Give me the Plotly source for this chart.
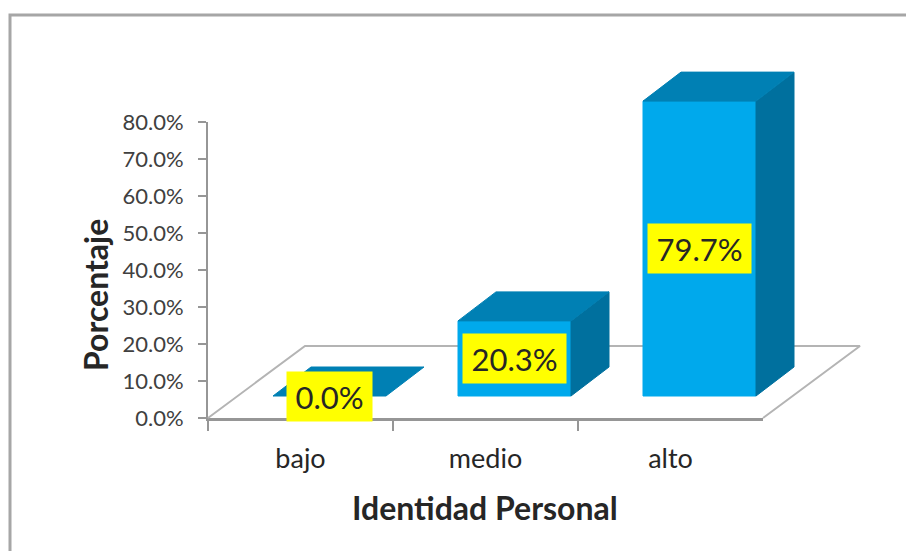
import plotly.graph_objects as go

categories = ["bajo", "medio", "alto"]
values = [0.0, 20.3, 79.7]
value_labels = ["0.0%", "20.3%", "79.7%"]
y_ticks = [0, 10, 20, 30, 40, 50, 60, 70, 80]
y_tick_labels = ["0.0%", "10.0%", "20.0%", "30.0%", "40.0%", "50.0%", "60.0%", "70.0%", "80.0%"]

# tamaño de la figura y del area de ejes (px)
W, H = 906, 551
AX_LEFT, AX_RIGHT = 208, 763
AX_TOP, AX_BOTTOM = 122, 418
PX_CAT = (AX_RIGHT - AX_LEFT) / len(categories)
PX_PCT = (AX_BOTTOM - AX_TOP) / y_ticks[-1]

# efecto 3D: desplazamientos en unidades de los ejes
BAR_SHIFT = 29 / PX_CAT
BAR_BASE = 22 / PX_PCT
BAR_WIDTH = 113 / PX_CAT
DEPTH_X = 38 / PX_CAT
DEPTH_Y = 29 / PX_PCT
FLOOR_X = 97 / PX_CAT
FLOOR_Y = 72 / PX_PCT

FRONT = "#00A9EC"
TOP = "#0080B4"
SIDE = "#00709E"
GRAY = "#969696"
FONT = "Lato"
TEXT = "#262626"


def face(fig, xs, ys, color):
    fig.add_trace(
        go.Scatter(
            x=xs,
            y=ys,
            xaxis="x2",
            yaxis="y2",
            mode="lines",
            fill="toself",
            fillcolor=color,
            line=dict(color=color, width=1),
            hoverinfo="skip",
        )
    )


fig = go.Figure()

# traza invisible para fijar el eje de categorias
fig.add_trace(
    go.Scatter(
        x=categories,
        y=values,
        mode="markers",
        marker=dict(opacity=0),
        hoverinfo="skip",
    )
)

# piso
fig.add_trace(
    go.Scatter(
        x=[-0.5, -0.5 + FLOOR_X, 2.5 + FLOOR_X, 2.5],
        y=[0, FLOOR_Y, FLOOR_Y, 0],
        xaxis="x2",
        yaxis="y2",
        mode="lines",
        line=dict(color="#B4B4B4", width=2),
        hoverinfo="skip",
    )
)

# barras
for i, value in enumerate(values):
    x0 = i + BAR_SHIFT - BAR_WIDTH / 2
    x1 = i + BAR_SHIFT + BAR_WIDTH / 2
    y0 = BAR_BASE
    y1 = BAR_BASE + value
    if value > 0:
        face(fig, [x0, x1, x1, x0, x0], [y0, y0, y1, y1, y0], FRONT)
        face(
            fig,
            [x1, x1 + DEPTH_X, x1 + DEPTH_X, x1, x1],
            [y0, y0 + DEPTH_Y, y1 + DEPTH_Y, y1, y0],
            SIDE,
        )
    face(
        fig,
        [x0, x1, x1 + DEPTH_X, x0 + DEPTH_X, x0],
        [y1, y1, y1 + DEPTH_Y, y1 + DEPTH_Y, y1],
        TOP,
    )
    fig.add_annotation(
        x=i + BAR_SHIFT,
        y=BAR_BASE + value / 2,
        xref="x2",
        yref="y2",
        text=value_labels[i],
        showarrow=False,
        bgcolor="#FFFF00",
        width=83 if value == 0 else 101,
        height=47,
        font=dict(family=FONT, size=31, color=TEXT),
    )

# titulos de los ejes
fig.add_annotation(
    x=485 / W,
    y=1 - 507 / H,
    xref="paper",
    yref="paper",
    xanchor="center",
    yanchor="middle",
    text="<b>Identidad Personal</b>",
    showarrow=False,
    font=dict(family=FONT, size=32, color=TEXT),
)
fig.add_annotation(
    x=95 / W,
    y=1 - 295 / H,
    xref="paper",
    yref="paper",
    xanchor="center",
    yanchor="middle",
    text="<b>Porcentaje</b>",
    textangle=-90,
    showarrow=False,
    font=dict(family=FONT, size=32, color=TEXT),
)

# marco del grafico
fig.add_shape(
    type="path",
    xref="paper",
    yref="paper",
    path=f"M {10 / W} 0 L {10 / W} {1 - 15 / H} L 1 {1 - 15 / H}",
    line=dict(color="#A6A6A6", width=3),
    layer="below",
)

fig.update_layout(
    width=W,
    height=H,
    autosize=False,
    margin=dict(l=0, r=0, t=0, b=0),
    paper_bgcolor="white",
    plot_bgcolor="rgba(0,0,0,0)",
    showlegend=False,
    font=dict(family=FONT, color=TEXT),
    xaxis=dict(
        domain=[AX_LEFT / W, AX_RIGHT / W],
        automargin=False,
        type="category",
        categoryorder="array",
        categoryarray=categories,
        range=[-0.5, 2.5],
        tickson="boundaries",
        ticks="outside",
        ticklen=10,
        tickwidth=2,
        tickcolor=GRAY,
        showline=True,
        linecolor=GRAY,
        linewidth=3,
        showgrid=False,
        zeroline=False,
        tickfont=dict(size=27, color=TEXT),
        ticklabelstandoff=15,
    ),
    yaxis=dict(
        domain=[(H - AX_BOTTOM) / H, (H - AX_TOP) / H],
        automargin=False,
        range=[0, y_ticks[-1]],
        tickvals=y_ticks,
        ticktext=y_tick_labels,
        ticks="outside",
        ticklen=8,
        tickwidth=2,
        tickcolor=GRAY,
        showline=True,
        linecolor=GRAY,
        linewidth=2,
        showgrid=False,
        zeroline=False,
        tickfont=dict(size=22, color="#404040"),
        ticklabelstandoff=10,
    ),
    xaxis2=dict(
        domain=[0, 1],
        anchor="y2",
        automargin=False,
        range=[-0.5 - AX_LEFT / PX_CAT, -0.5 + (W - AX_LEFT) / PX_CAT],
        visible=False,
    ),
    yaxis2=dict(
        domain=[0, 1],
        anchor="x2",
        automargin=False,
        range=[-(H - AX_BOTTOM) / PX_PCT, AX_BOTTOM / PX_PCT],
        visible=False,
    ),
)

# el navegador deja 8 px de margen en el body
fig.write_html(
    "out.html",
    config={"displayModeBar": False},
    post_script="document.body.style.margin = '0';",
)
